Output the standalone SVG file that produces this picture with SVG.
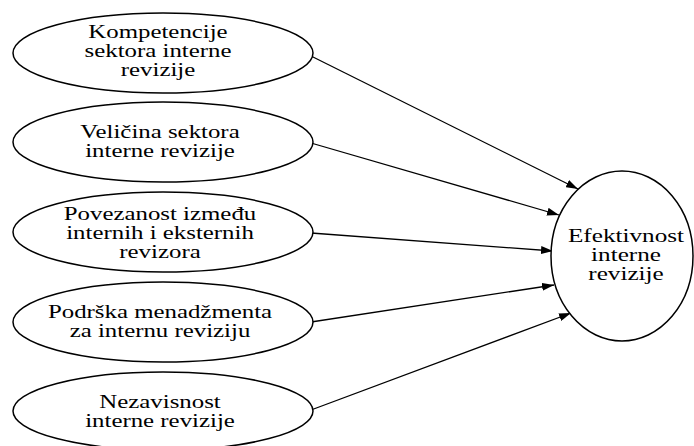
<svg xmlns="http://www.w3.org/2000/svg" width="694" height="446" viewBox="0 0 694 446">
  <style>
    .node ellipse { fill: #fff; stroke: #000; stroke-width: 1.5; }
    .edges line { stroke: #000; stroke-width: 1.3; marker-end: url(#arrow); }
  </style>
  <defs>
    <marker id="arrow" viewBox="0 0 12 8" refX="12" refY="4" markerWidth="12" markerHeight="8" markerUnits="userSpaceOnUse" orient="auto">
      <path d="M0,0 L12,4 L0,8 Z" fill="#000"/>
    </marker>
  </defs>
  <rect width="694" height="446" fill="#fff"/>

  <g class="edges">
    <line x1="311" y1="56" x2="578" y2="189"/>
    <line x1="311" y1="143" x2="559" y2="215"/>
    <line x1="311" y1="233" x2="553" y2="251"/>
    <line x1="311" y1="322" x2="554" y2="285"/>
    <line x1="311" y1="410" x2="571" y2="313"/>
  </g>

  <g id="n1" class="node">
    <ellipse cx="163" cy="53" rx="150" ry="40"/>
    <g transform="translate(158,0) scale(1.38,1)" font-family="Liberation Serif" font-size="18" text-anchor="middle">
      <text x="0" y="38">Kompetencije</text>
      <text x="0" y="57">sektora interne</text>
      <text x="0" y="76">revizije</text>
    </g>
  </g>

  <g id="n2" class="node">
    <ellipse cx="163" cy="142" rx="150" ry="40"/>
    <g transform="translate(160,0) scale(1.38,1)" font-family="Liberation Serif" font-size="18" text-anchor="middle">
      <text x="0" y="138">Veličina sektora</text>
      <text x="0" y="157">interne revizije</text>
    </g>
  </g>

  <g id="n3" class="node">
    <ellipse cx="163" cy="232" rx="150" ry="40"/>
    <g transform="translate(160,0) scale(1.38,1)" font-family="Liberation Serif" font-size="18" text-anchor="middle">
      <text x="0" y="220">Povezanost između</text>
      <text x="0" y="239">internih i eksternih</text>
      <text x="0" y="258">revizora</text>
    </g>
  </g>

  <g id="n4" class="node">
    <ellipse cx="163" cy="322" rx="150" ry="40"/>
    <g transform="translate(160,0) scale(1.38,1)" font-family="Liberation Serif" font-size="18" text-anchor="middle">
      <text x="0" y="318">Podrška menadžmenta</text>
      <text x="0" y="337">za internu reviziju</text>
    </g>
  </g>

  <g id="n5" class="node">
    <ellipse cx="163" cy="411" rx="150" ry="39"/>
    <g transform="translate(160,0) scale(1.38,1)" font-family="Liberation Serif" font-size="18" text-anchor="middle">
      <text x="0" y="408">Nezavisnost</text>
      <text x="0" y="427">interne revizije</text>
    </g>
  </g>

  <g id="target" class="node">
    <ellipse cx="622" cy="256" rx="71" ry="85"/>
    <g transform="translate(626,0) scale(1.4,1)" font-family="Liberation Serif" font-size="18" text-anchor="middle">
      <text x="0" y="242">Efektivnost</text>
      <text x="0" y="261">interne</text>
      <text x="0" y="280">revizije</text>
    </g>
  </g>
</svg>
